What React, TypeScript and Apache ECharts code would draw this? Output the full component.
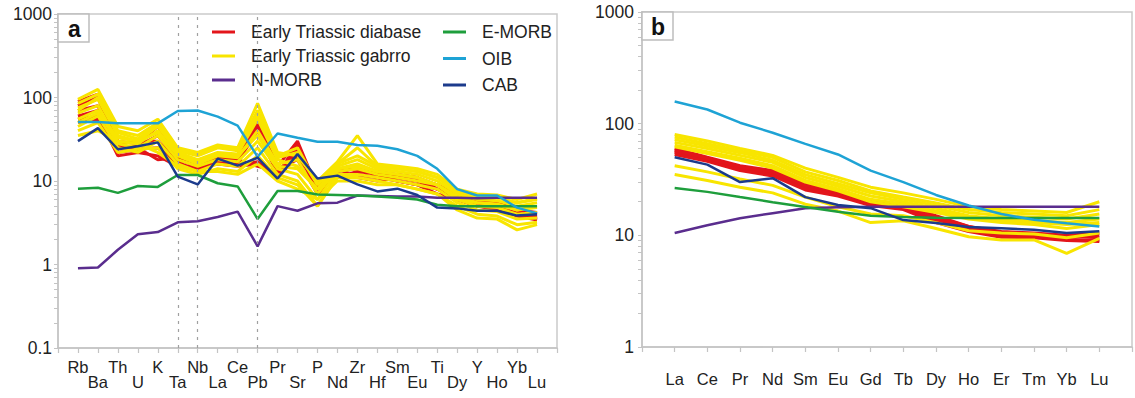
import React, { useEffect, useRef } from 'react';
import * as echarts from 'echarts';

// ---------- categories ----------
const SPIDER_ELEMENTS = ['Rb', 'Ba', 'Th', 'U', 'K', 'Ta', 'Nb', 'La', 'Ce', 'Pb', 'Pr', 'Sr', 'P', 'Nd', 'Zr', 'Hf', 'Sm', 'Eu', 'Ti', 'Dy', 'Y', 'Ho', 'Yb', 'Lu'];
const REE_ELEMENTS = ['La', 'Ce', 'Pr', 'Nd', 'Sm', 'Eu', 'Gd', 'Tb', 'Dy', 'Ho', 'Er', 'Tm', 'Yb', 'Lu'];
const Y_LABELS_A = [0.1, 1, 10, 100, 1000];
const Y_LABELS_B = [1, 10, 100, 1000];
const DASHED_ELEMENTS = ['Ta', 'Nb', 'Pb'];

// ---------- panel a: primitive-mantle normalised spider diagram ----------
const A_NMORB = [0.9, 0.92, 1.5, 2.3, 2.45, 3.2, 3.3, 3.7, 4.3, 1.65, 5.0, 4.4, 5.4, 5.5, 6.7, 6.6, 6.5, 6.5, 6.3, 6.3, 6.2, 6.3, 6.3, 6.3];
const A_EMORB = [8.1, 8.3, 7.2, 8.7, 8.5, 11.8, 11.8, 9.4, 8.6, 3.5, 7.6, 7.6, 6.9, 6.8, 6.7, 6.5, 6.3, 6.0, 5.2, 5.0, 5.0, 5.0, 5.0, 5.0];
const A_OIB = [51, 51, 49, 49, 49, 69, 70, 59, 46, 19.5, 37, 33, 29.5, 29.5, 27, 26.5, 24, 20, 14, 8, 6.7, 6.7, 4.8, 4.1];
const A_CAB = [30, 43, 24, 26, 29, 11.3, 9.1, 18.5, 15.3, 19, 10.7, 21, 10.7, 11.6, 9.1, 7.5, 8.1, 6.8, 4.8, 4.7, 4.4, 4.4, 3.85, 4.0];

const A_DIABASE = [
  [90, 110, 30, 28, 45, 20, 16, 20, 19, 50, 15, 30, 8, 13, 14, 12, 12, 11, 9, 7, 6, 5.5, 4.5, 4.2],
  [80, 100, 25, 26, 35, 18, 15, 18, 17, 40, 12, 25, 7, 12, 12, 11, 11, 10, 8, 6.5, 5.5, 5, 4, 3.8],
  [70, 80, 22, 24, 25, 16, 14, 17, 16, 17, 11, 20, 9, 11, 13, 12, 10, 9, 8, 6, 5, 4.8, 4, 3.6],
  [60, 70, 28, 30, 30, 17, 13, 19, 18, 15, 13, 22, 10, 14, 11, 10, 11, 10, 9, 6.5, 5.5, 5, 4.2, 3.5],
  [55, 60, 20, 22, 20, 15, 15, 16, 15, 16, 12, 28, 8, 12, 12, 11, 10, 9, 7, 6, 5, 4.5, 3.8, 3.4],
  [50, 55, 26, 25, 18, 19, 17, 21, 20, 45, 14, 18, 7, 13, 15, 13, 12, 11, 8, 7, 6, 5.5, 4.5, 4],
];
const A_GABBRO = [
  [95, 125, 45, 40, 55, 25, 22, 27, 25, 85, 22, 20, 10, 17, 35, 16, 15, 14, 12, 8, 7, 6.8, 6, 7],
  [85, 110, 40, 35, 50, 23, 20, 25, 23, 70, 20, 25, 9, 16, 20, 15, 14, 13, 11, 7.5, 6.5, 6.3, 5.5, 6],
  [75, 95, 35, 30, 45, 22, 18, 22, 21, 55, 18, 15, 8, 15, 18, 14, 13, 12, 10, 7, 6, 5.8, 5, 5.5],
  [65, 80, 30, 28, 40, 20, 16, 20, 19, 40, 16, 18, 7, 14, 16, 13, 12, 11, 9, 6.5, 5.5, 5.3, 4.5, 4.8],
  [55, 70, 28, 25, 35, 18, 15, 18, 17, 30, 14, 12, 6, 13, 14, 12, 11, 10, 9, 6, 5, 4.8, 4, 4.2],
  [45, 60, 25, 22, 30, 16, 13, 16, 15, 25, 12, 10, 5, 12, 12, 11, 10, 9, 8, 5.5, 4.5, 4.3, 3.5, 3.6],
  [40, 50, 22, 24, 25, 14, 12, 14, 13, 20, 11, 9, 5, 11, 11, 10, 9, 8, 7, 5, 4, 3.8, 3, 3.2],
  [35, 40, 30, 28, 22, 15, 13, 13, 12, 16, 10, 8, 6, 10, 10, 9, 9, 8, 7, 4.5, 3.6, 3.5, 2.6, 3],
  [70, 100, 38, 32, 48, 24, 21, 26, 24, 60, 19, 22, 9, 16, 25, 15, 14, 13, 11, 7.5, 6.5, 6.3, 5.5, 6.2],
  [50, 65, 33, 30, 38, 21, 17, 21, 20, 35, 15, 14, 8, 14, 15, 13, 12, 11, 9, 6, 5.5, 5.2, 4.5, 5],
];

// ---------- panel b: chondrite-normalised REE ----------
const B_NMORB = [10.5, 12.3, 14.2, 15.8, 17.5, 17.8, 18, 18, 18, 18, 18, 18, 18, 18];
const B_EMORB = [26.5, 24.5, 22, 19.8, 17.9, 16.3, 15, 14.6, 14.4, 14.3, 14.3, 14.3, 14.3, 14.3];
const B_OIB = [158, 134, 102, 83, 66, 53, 38, 30, 23, 18.5, 15.5, 13.8, 12.8, 12];
const B_CAB = [50, 43, 30, 32.5, 22, 18.7, 17.5, 13.7, 12.9, 11.9, 11.6, 11.2, 10.5, 10.9];

const B_DIABASE = [
  [60, 50, 42, 38, 29, 25, 20.5, 19, 15, 12, 10.8, 10.5, 10, 10.5],
  [57, 48, 40, 36, 27, 24, 19.5, 18, 14, 11.5, 10.2, 10, 9.5, 10],
  [55, 47, 39, 35, 26.5, 23, 19, 17.5, 13.5, 11, 10, 9.8, 9.2, 9],
  [53, 46, 38, 34, 25.5, 22.5, 18.5, 17, 13, 10.8, 9.6, 9.5, 9, 8.8],
  [58, 49, 41, 37, 28, 24.5, 20, 18.5, 14.5, 12, 10.5, 10.2, 9.8, 9.5],
];
const B_GABBRO = [
  [80, 70, 60, 52, 40, 33, 27, 24, 21, 18, 17, 16.5, 16, 20],
  [76, 66, 57, 50, 37, 31, 25, 22, 19.5, 17, 16, 15.5, 15, 17],
  [72, 63, 55, 47, 35, 29, 24, 21, 18.5, 16, 15, 14.5, 14, 15.5],
  [68, 60, 52, 45, 33, 27.5, 22.5, 20, 17.5, 15, 14, 13.5, 13, 14],
  [64, 56, 49, 42, 31, 26, 21, 19, 16.5, 14.5, 13.5, 13, 12.5, 13],
  [62, 54, 47, 40, 30, 25, 20, 18, 16, 14, 13, 12.5, 11.5, 12.5],
  [42, 37, 32, 28, 22, 18, 15.5, 15, 13, 11, 10.5, 10.3, 9.5, 10.5],
  [35, 31, 27, 24, 19, 16.5, 13, 13.5, 11.5, 9.7, 9.1, 9.1, 6.9, 9.4],
];

const NAME_DIABASE = 'Early Triassic diabase';
const NAME_GABBRO = 'Early Triassic gabrro';
const NAME_NMORB = 'N-MORB';
const NAME_EMORB = 'E-MORB';
const NAME_OIB = 'OIB';
const NAME_CAB = 'CAB';

const C_RED = '#e3151b';
const C_YELLOW = '#f8e500';
const C_PURPLE = '#5a2d8e';
const C_GREEN = '#1e9e3c';
const C_CYAN = '#1ea3d5';
const C_NAVY = '#1c3b8c';

const FONT = "'Liberation Sans', Arial, Helvetica, sans-serif";
const AXIS = '#c4c4c4';
const TEXT = '#222';

function logTickValues(minExp: number, maxExp: number): number[] {
  const out: number[] = [];
  for (let e = minExp; e < maxExp; e++) {
    for (let m = 1; m < 10; m++) out.push(+(m * Math.pow(10, e)).toPrecision(3));
  }
  out.push(Math.pow(10, maxExp));
  return out;
}

function fmtLog(v: number): string {
  return v < 1 ? v.toFixed(1) : String(Math.round(v));
}

export default function App() {
  const ref = useRef<HTMLDivElement>(null);

  useEffect(() => {
    if (!ref.current) return;
    const chart = echarts.init(ref.current, null, { renderer: 'svg' });

    const toPts = (vals: number[]) => vals.map((v, i) => [i + 1, v]);
    const series: any[] = [];
    const add = (name: string, color: string, width: number, vals: number[], idx: number, z: number, extra: any = {}) => {
      series.push({
        type: 'line',
        name,
        xAxisIndex: idx,
        yAxisIndex: idx,
        data: toPts(vals),
        symbol: 'none',
        silent: true,
        z,
        lineStyle: { color, width },
        itemStyle: { color },
        ...extra,
      });
    };

    // panel a
    A_DIABASE.forEach((v, i) =>
      add(NAME_DIABASE, C_RED, 3, v, 0, 2, i === 0 ? {
        markLine: {
          silent: true,
          symbol: 'none',
          label: { show: false },
          lineStyle: { color: '#a0a0a0', type: [3, 5], width: 1.2 },
          data: DASHED_ELEMENTS.map((e) => ({ xAxis: SPIDER_ELEMENTS.indexOf(e) + 1 })),
        },
      } : {})
    );
    A_GABBRO.forEach((v) => add(NAME_GABBRO, C_YELLOW, 3, v, 0, 3));
    add(NAME_NMORB, C_PURPLE, 2.5, A_NMORB, 0, 4);
    add(NAME_EMORB, C_GREEN, 2.5, A_EMORB, 0, 4);
    add(NAME_OIB, C_CYAN, 2.5, A_OIB, 0, 4);
    add(NAME_CAB, C_NAVY, 2.5, A_CAB, 0, 5);

    // panel b
    B_DIABASE.forEach((v) => add(NAME_DIABASE, C_RED, 3, v, 1, 2));
    B_GABBRO.forEach((v) => add(NAME_GABBRO, C_YELLOW, 3, v, 1, 3));
    add(NAME_NMORB, C_PURPLE, 2.5, B_NMORB, 1, 4);
    add(NAME_EMORB, C_GREEN, 2.5, B_EMORB, 1, 4);
    add(NAME_OIB, C_CYAN, 2.5, B_OIB, 1, 4);
    add(NAME_CAB, C_NAVY, 2.5, B_CAB, 1, 5);

    const xLabelA = (v: number) => {
      const i = Math.round(v);
      if (i < 1 || i > SPIDER_ELEMENTS.length) return '';
      const n = SPIDER_ELEMENTS[i - 1];
      return i % 2 === 1 ? n : '\n' + n;
    };
    const xLabelB = (v: number) => {
      const i = Math.round(v);
      if (i < 1 || i > REE_ELEMENTS.length) return '';
      return REE_ELEMENTS[i - 1];
    };

    const legendCommon = {
      orient: 'vertical',
      icon: 'rect',
      itemWidth: 23,
      itemHeight: 3,
      padding: 0,
      selectedMode: false,
      textStyle: { fontSize: 17.5, fontFamily: FONT, color: TEXT, lineHeight: 16, padding: [0, 0, 0, 11] },
    };

    const option: any = {
      animation: false,
      backgroundColor: '#fff',
      grid: [
        { left: 58, top: 14, width: 499, height: 334, show: true, borderColor: '#cacaca', borderWidth: 1.5, backgroundColor: 'transparent' },
        { left: 642, top: 12, width: 500, height: 335, show: true, borderColor: '#cacaca', borderWidth: 1.5, backgroundColor: 'transparent' },
      ],
      xAxis: [
        {
          gridIndex: 0,
          type: 'value',
          min: 0,
          max: SPIDER_ELEMENTS.length + 1,
          interval: 1,
          splitLine: { show: false },
          axisLine: { lineStyle: { color: AXIS, width: 1.5 } },
          axisTick: { show: true, length: 5, lineStyle: { color: AXIS, width: 1.2 } },
          axisLabel: { formatter: xLabelA, fontSize: 16.5, fontFamily: FONT, color: TEXT, lineHeight: 15, margin: 11, showMinLabel: true, showMaxLabel: true },
        },
        {
          gridIndex: 1,
          type: 'value',
          min: 0,
          max: REE_ELEMENTS.length + 1,
          interval: 1,
          splitLine: { show: false },
          axisLine: { lineStyle: { color: AXIS, width: 1.5 } },
          axisTick: { show: true, length: 5, lineStyle: { color: AXIS, width: 1.2 } },
          axisLabel: { formatter: xLabelB, fontSize: 16.5, fontFamily: FONT, color: TEXT, margin: 23 },
        },
      ],
      yAxis: [
        {
          gridIndex: 0,
          type: 'log',
          logBase: 10,
          min: Y_LABELS_A[0],
          max: Y_LABELS_A[Y_LABELS_A.length - 1],
          splitLine: { show: false },
          axisLine: { show: true, lineStyle: { color: AXIS, width: 1.5 } },
          axisTick: { show: true, length: 4, customValues: logTickValues(-1, 3), lineStyle: { color: AXIS, width: 1 } },
          axisLabel: { customValues: Y_LABELS_A, formatter: fmtLog, fontSize: 17.5, fontFamily: FONT, color: TEXT, margin: 6, showMinLabel: true, showMaxLabel: true },
        },
        {
          gridIndex: 1,
          type: 'log',
          logBase: 10,
          min: Y_LABELS_B[0],
          max: Y_LABELS_B[Y_LABELS_B.length - 1],
          splitLine: { show: false },
          axisLine: { show: true, lineStyle: { color: AXIS, width: 1.5 } },
          axisTick: { show: true, length: 4, customValues: logTickValues(0, 3), lineStyle: { color: AXIS, width: 1 } },
          axisLabel: { customValues: Y_LABELS_B, formatter: fmtLog, fontSize: 17.5, fontFamily: FONT, color: TEXT, margin: 8, showMinLabel: true, showMaxLabel: true },
        },
      ],
      legend: [
        { ...legendCommon, left: 212, top: 23, itemGap: 6, data: [NAME_DIABASE, NAME_GABBRO, NAME_NMORB] },
        { ...legendCommon, left: 443, top: 23, itemGap: 8.5, data: [NAME_EMORB, NAME_OIB, NAME_CAB] },
      ],
      graphic: [
        { type: 'rect', x: 58, y: 14, shape: { width: 31, height: 28 }, style: { fill: '#fff', stroke: '#bdbdbd', lineWidth: 1.5 }, z: 10 },
        { type: 'text', x: 74.5, y: 28.5, style: { text: 'a', font: `bold 23px ${FONT}`, fill: '#111', align: 'center', verticalAlign: 'middle' }, z: 11 },
        { type: 'rect', x: 642, y: 12, shape: { width: 31, height: 28 }, style: { fill: '#fff', stroke: '#bdbdbd', lineWidth: 1.5 }, z: 10 },
        { type: 'text', x: 658, y: 26.5, style: { text: 'b', font: `bold 23px ${FONT}`, fill: '#111', align: 'center', verticalAlign: 'middle' }, z: 11 },
      ],
      series,
    };

    chart.setOption(option);
    return () => chart.dispose();
  }, []);

  return <div ref={ref} style={{ position: 'absolute', left: 0, top: 0, width: 1135, height: 398 }} />;
}
